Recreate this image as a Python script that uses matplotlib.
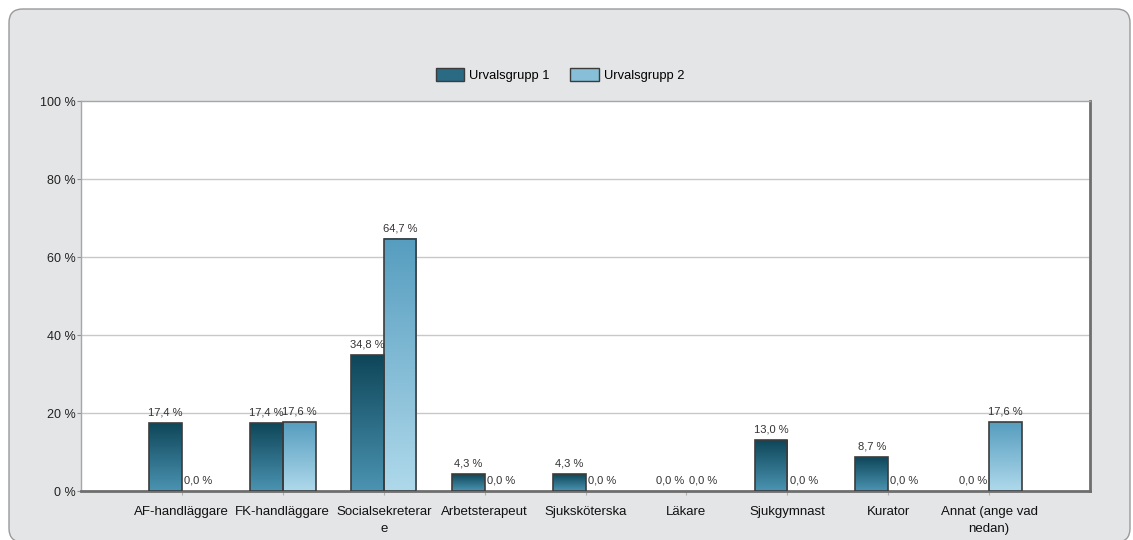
import numpy as np
import matplotlib as mpl
import matplotlib.pyplot as plt
from matplotlib.patches import FancyBboxPatch, Rectangle, Patch
from matplotlib.colors import LinearSegmentedColormap

categories = [
    "AF-handläggare",
    "FK-handläggare",
    "Socialsekreterar\ne",
    "Arbetsterapeut",
    "Sjuksköterska",
    "Läkare",
    "Sjukgymnast",
    "Kurator",
    "Annat (ange vad\nnedan)",
]
group1 = [17.4, 17.4, 34.8, 4.3, 4.3, 0.0, 13.0, 8.7, 0.0]
group2 = [0.0, 17.6, 64.7, 0.0, 0.0, 0.0, 0.0, 0.0, 17.6]
series_names = ["Urvalsgrupp 1", "Urvalsgrupp 2"]
y_ticks = [0, 20, 40, 60, 80, 100]

plt.rcParams["font.family"] = ["Liberation Sans", "DejaVu Sans"]

# top colour, bottom colour of each series gradient
grad1 = ("#0e4659", "#4b94b2")
grad2 = ("#569dbf", "#afd9eb")

fig = plt.figure(figsize=(11.33, 5.40), dpi=100)
fig.patch.set_facecolor("white")

# rounded grey panel behind the chart
panel = FancyBboxPatch(
    (9 / 1133, -2 / 540), 1121 / 1133, 533 / 540,
    boxstyle="round,pad=0,rounding_size=0.012",
    transform=fig.transFigure, facecolor="#e4e5e7", edgecolor="#9a9a9a",
    linewidth=1.0, mutation_aspect=1133 / 540, zorder=-5,
)
fig.patches.append(panel)

ax = fig.add_axes([81 / 1133, 49 / 540, 1009 / 1133, 390 / 540])
ax.set_zorder(2)
ax.set_facecolor("white")

x = np.arange(1, len(categories) + 1)
width = 0.325


def gradient_bar(ax, x0, h, colors):
    cmap = LinearSegmentedColormap.from_list("", list(colors))
    if h > 0:
        grad = np.linspace(0, 1, 256).reshape(-1, 1)
        ax.imshow(grad, extent=(x0, x0 + width, 0, h), origin="upper",
                  cmap=cmap, aspect="auto", zorder=3, interpolation="bicubic")
        ax.add_patch(Rectangle((x0, 0), width, h, facecolor="none",
                               edgecolor="#3c3c3c", linewidth=1.2, zorder=4))


for xi, v1, v2 in zip(x, group1, group2):
    gradient_bar(ax, xi - width, v1, grad1)
    gradient_bar(ax, xi, v2, grad2)
    for xc, v in ((xi - width / 2, v1), (xi + width / 2, v2)):
        ax.annotate(f"{v:.1f} %".replace(".", ","), (xc, v),
                    xytext=(0, 4), textcoords="offset points",
                    ha="center", va="bottom", fontsize=8, color="#333333",
                    zorder=5)

ax.set_xlim(0, len(categories) + 1)
ax.set_ylim(0, 100)

ax.set_yticks(y_ticks)
ax.set_yticklabels([f"{t} %" for t in y_ticks], fontsize=9, color="#222222")
ax.set_xticks(x)
ax.set_xticklabels(categories, fontsize=9.5, color="#111111", linespacing=1.55)
ax.tick_params(axis="y", length=3, width=0.8, color="#909090", pad=1)
ax.tick_params(axis="x", length=3, width=0.8, color="#b0b0b0", pad=8)

for t in y_ticks[1:-1]:
    ax.axhline(t, color="#c8c8c8", linewidth=1.0, zorder=1)

for side in ("left", "top"):
    ax.spines[side].set_color("#a6a6a6")
    ax.spines[side].set_linewidth(1.0)
for side in ("right", "bottom"):
    ax.spines[side].set_color("#6e6e6e")
    ax.spines[side].set_linewidth(2.0)

handles = [
    Patch(facecolor="#2a6a82", edgecolor="#3c3c3c", label=series_names[0]),
    Patch(facecolor="#86bfd7", edgecolor="#3c3c3c", label=series_names[1]),
]
fig.legend(handles=handles, loc="center", bbox_to_anchor=(560 / 1133, 1 - 75 / 540),
           ncol=2, frameon=False, fontsize=9.3, handlelength=2.2,
           handleheight=1.1, columnspacing=1.6, handletextpad=0.4)

fig.savefig("out.png", dpi=100, facecolor=fig.get_facecolor())
